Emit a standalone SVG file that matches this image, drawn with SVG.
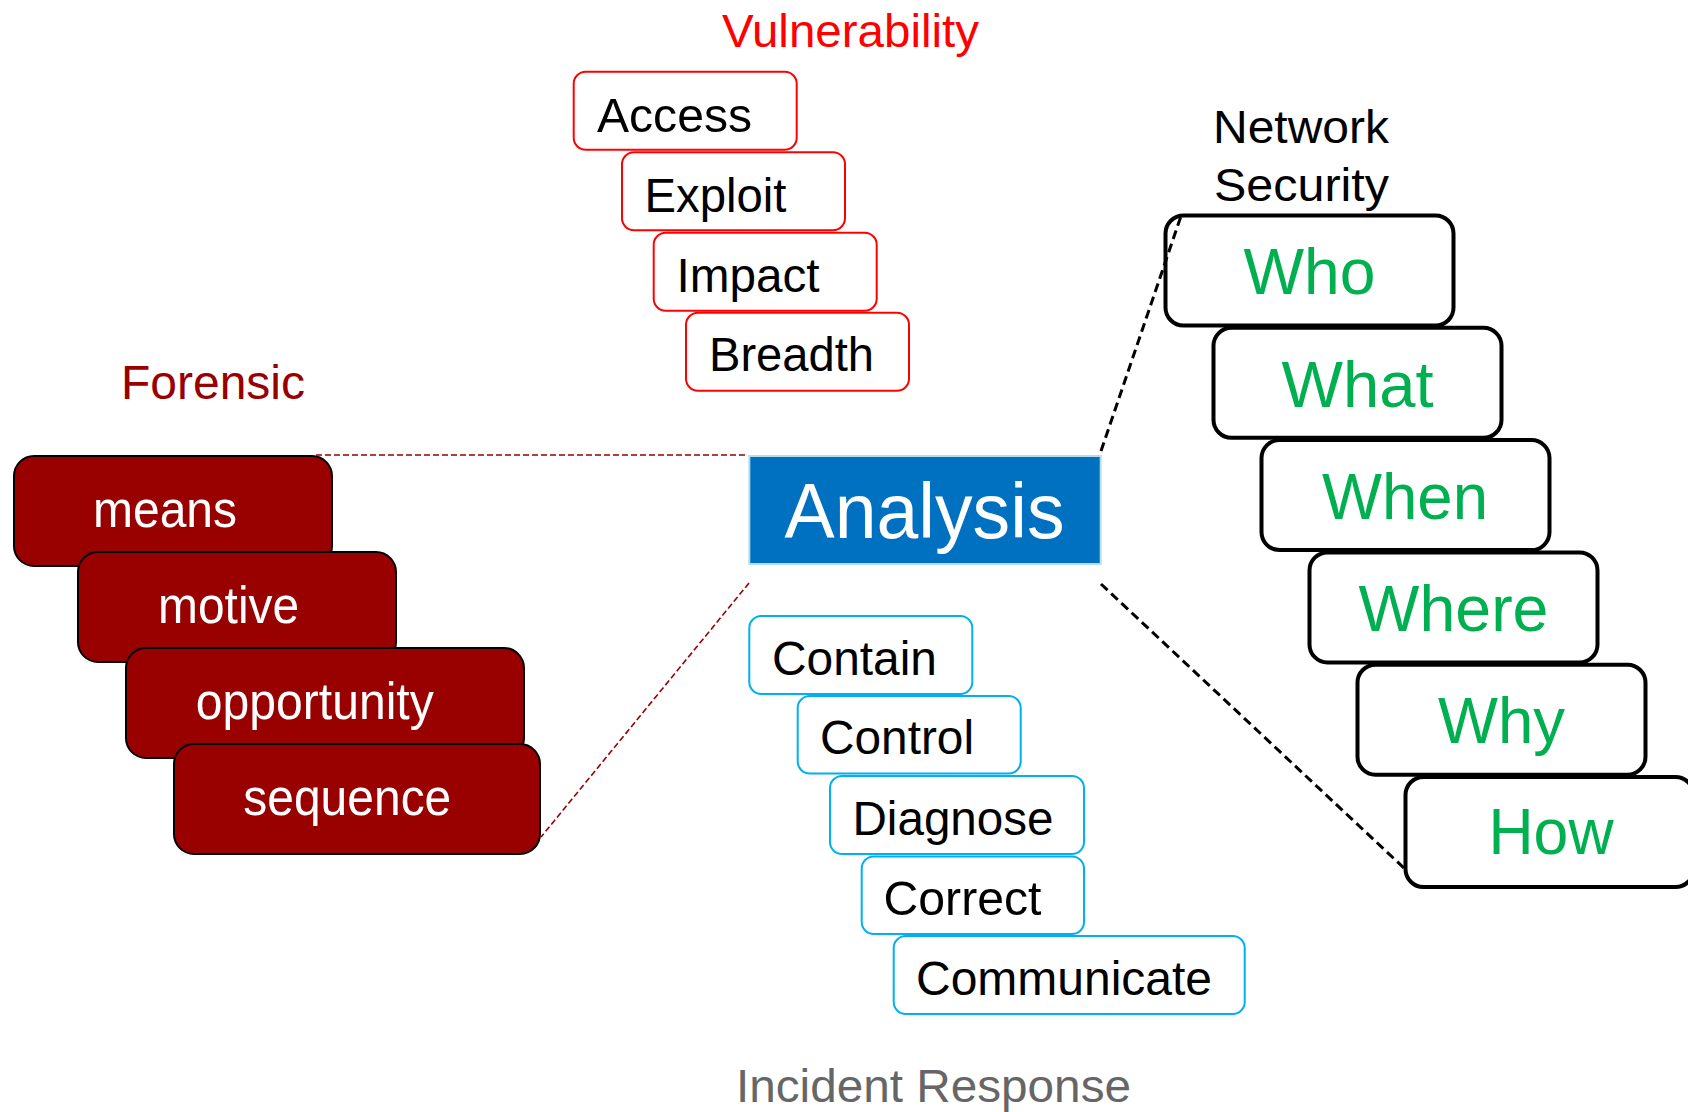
<svg xmlns="http://www.w3.org/2000/svg" width="1688" height="1112" viewBox="0 0 1688 1112">
<style>
text { font-family: "Liberation Sans", Arial, Helvetica, sans-serif; }
.vbox { fill: #FFFFFF; stroke: #FF0000; stroke-width: 2; }
.vtxt { font-size: 48px; fill: #000000; }
.fbox { fill: #990000; stroke: #000000; stroke-width: 2; }
.ftxt { font-size: 52px; fill: #FFFFFF; text-anchor: middle; }
.nbox { fill: #FFFFFF; stroke: #000000; stroke-width: 4; }
.ntxt { font-size: 64px; fill: #00B050; text-anchor: middle; }
.ibox { fill: #FFFFFF; stroke: #00B0F0; stroke-width: 2; }
.itxt { font-size: 48px; fill: #000000; }
.title { font-size: 47px; }
.red-dash { stroke: #990000; stroke-width: 1.6; stroke-dasharray: 6 3; fill: none; }
.blk-dash { stroke: #000000; stroke-width: 3; stroke-dasharray: 9 5; fill: none; }
</style>

<!-- Titles -->
<text id="title-vulnerability" class="title" x="722" y="47" fill="#FF0000" textLength="257" lengthAdjust="spacingAndGlyphs">Vulnerability</text>
<text id="title-forensic" class="title" x="121" y="399" fill="#990000" textLength="184" lengthAdjust="spacingAndGlyphs" style="font-size:48px">Forensic</text>
<g id="title-network">
<text class="title" x="1213" y="143" fill="#000000" textLength="176" lengthAdjust="spacingAndGlyphs">Network</text>
<text class="title" x="1214" y="201" fill="#000000" textLength="175" lengthAdjust="spacingAndGlyphs">Security</text>
</g>
<text id="title-incident" class="title" x="736" y="1102" fill="#666666" textLength="395" lengthAdjust="spacingAndGlyphs">Incident Response</text>

<!-- Vulnerability -->
<g id="n-access"><rect class="vbox" x="573.7" y="71.7" width="223" height="78" rx="12"/><text class="vtxt" x="597" y="132" textLength="155" lengthAdjust="spacingAndGlyphs">Access</text></g>
<g id="n-exploit"><rect class="vbox" x="622" y="152.2" width="223" height="78" rx="12"/><text class="vtxt" x="644.5" y="212" textLength="142" lengthAdjust="spacingAndGlyphs">Exploit</text></g>
<g id="n-impact"><rect class="vbox" x="653.7" y="232.7" width="223" height="78" rx="12"/><text class="vtxt" x="676.5" y="292" textLength="143" lengthAdjust="spacingAndGlyphs">Impact</text></g>
<g id="n-breadth"><rect class="vbox" x="686" y="312.7" width="223" height="78" rx="12"/><text class="vtxt" x="709" y="371" textLength="165" lengthAdjust="spacingAndGlyphs">Breadth</text></g>

<!-- Forensic -->
<g id="n-means"><rect class="fbox" x="14" y="456" width="318" height="110" rx="20"/><text class="ftxt" x="165" y="527" textLength="144" lengthAdjust="spacingAndGlyphs">means</text></g>
<g id="n-motive"><rect class="fbox" x="78" y="552" width="318" height="110" rx="20"/><text class="ftxt" x="228.6" y="623" textLength="141" lengthAdjust="spacingAndGlyphs">motive</text></g>
<g id="n-opportunity"><rect class="fbox" x="126" y="648" width="398" height="110" rx="20"/><text class="ftxt" x="314.8" y="719" textLength="238" lengthAdjust="spacingAndGlyphs">opportunity</text></g>
<g id="n-sequence"><rect class="fbox" x="174" y="744" width="366" height="110" rx="20"/><text class="ftxt" x="347.3" y="815" textLength="208" lengthAdjust="spacingAndGlyphs">sequence</text></g>

<!-- Analysis -->
<g id="n-analysis"><rect x="749.3" y="456" width="351.4" height="108" fill="#0070C0" stroke="#B7DDE8" stroke-width="2"/><text x="924.5" y="538" font-size="78" fill="#FFFFFF" text-anchor="middle" textLength="280" lengthAdjust="spacingAndGlyphs">Analysis</text></g>

<!-- Network Security -->
<g id="n-who"><rect class="nbox" x="1165.5" y="215.5" width="288" height="110" rx="18"/><text class="ntxt" x="1309.5" y="294" textLength="132" lengthAdjust="spacingAndGlyphs">Who</text></g>
<g id="n-what"><rect class="nbox" x="1213.5" y="327.8" width="288" height="110" rx="18"/><text class="ntxt" x="1357.5" y="406.7" textLength="152" lengthAdjust="spacingAndGlyphs">What</text></g>
<g id="n-when"><rect class="nbox" x="1261.5" y="440.1" width="288" height="110" rx="18"/><text class="ntxt" x="1405" y="519" textLength="166" lengthAdjust="spacingAndGlyphs">When</text></g>
<g id="n-where"><rect class="nbox" x="1309.5" y="552.4" width="288" height="110" rx="18"/><text class="ntxt" x="1453.5" y="630.7" textLength="190" lengthAdjust="spacingAndGlyphs">Where</text></g>
<g id="n-why"><rect class="nbox" x="1357.5" y="664.7" width="288" height="110" rx="18"/><text class="ntxt" x="1501.5" y="742.7" textLength="127" lengthAdjust="spacingAndGlyphs">Why</text></g>
<g id="n-how"><rect class="nbox" x="1405.5" y="777" width="288" height="110" rx="18"/><text class="ntxt" x="1551" y="854.3" textLength="125" lengthAdjust="spacingAndGlyphs">How</text></g>

<!-- Incident Response -->
<g id="n-contain"><rect class="ibox" x="749.3" y="616" width="223" height="78" rx="12"/><text class="itxt" x="772" y="675" textLength="165" lengthAdjust="spacingAndGlyphs">Contain</text></g>
<g id="n-control"><rect class="ibox" x="797.7" y="696" width="223" height="77.5" rx="12"/><text class="itxt" x="820" y="753.5" textLength="154" lengthAdjust="spacingAndGlyphs">Control</text></g>
<g id="n-diagnose"><rect class="ibox" x="830" y="776" width="254" height="78" rx="12"/><text class="itxt" x="852.5" y="835" textLength="201" lengthAdjust="spacingAndGlyphs">Diagnose</text></g>
<g id="n-correct"><rect class="ibox" x="861.7" y="856.5" width="222.3" height="77.5" rx="12"/><text class="itxt" x="883.5" y="915" textLength="158" lengthAdjust="spacingAndGlyphs">Correct</text></g>
<g id="n-communicate"><rect class="ibox" x="893.7" y="936" width="351" height="78" rx="12"/><text class="itxt" x="916" y="995" textLength="296" lengthAdjust="spacingAndGlyphs">Communicate</text></g>

<!-- Connectors -->
<g id="connectors">
<line class="red-dash" x1="316" y1="455" x2="748" y2="455"/>
<line class="red-dash" x1="749" y1="583" x2="541" y2="837"/>
<line class="blk-dash" x1="1101" y1="451" x2="1181" y2="216"/>
<line class="blk-dash" x1="1101" y1="584" x2="1404" y2="868"/>
</g>
</svg>
